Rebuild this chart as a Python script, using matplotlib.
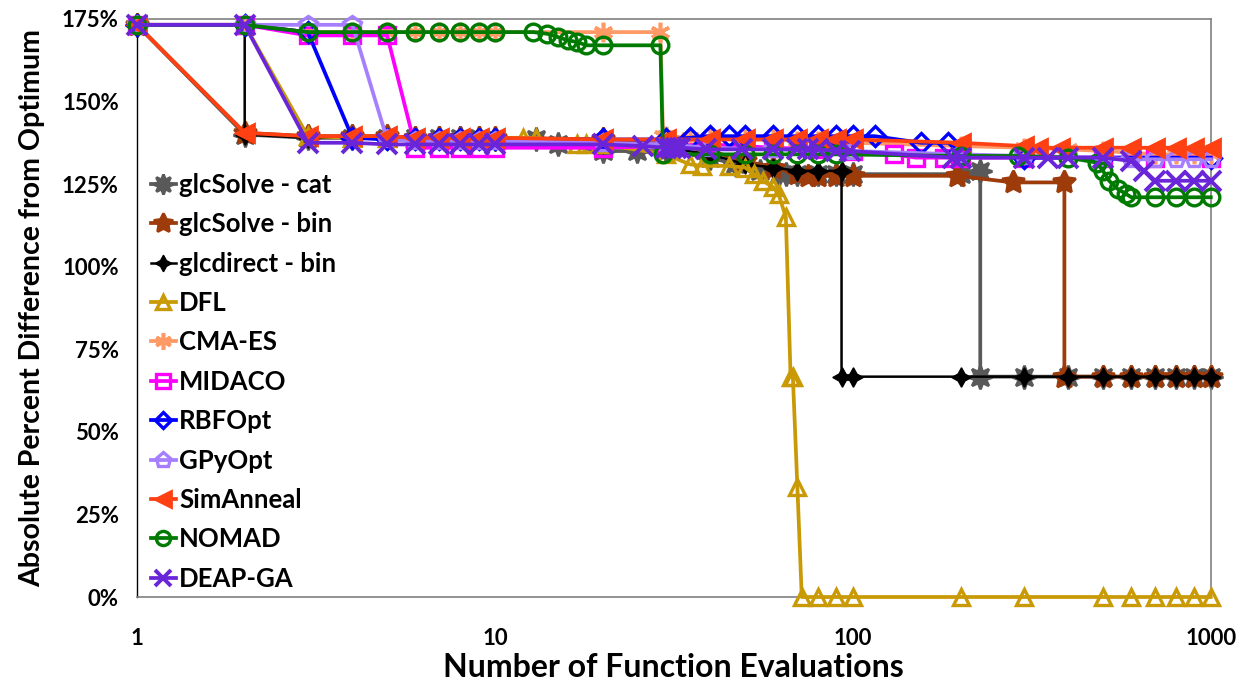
import numpy as np
import matplotlib.pyplot as plt
from matplotlib.ticker import FixedLocator, FuncFormatter, NullLocator

plt.rcParams['font.family'] = ['Lato', 'DejaVu Sans']
plt.rcParams['font.weight'] = 'bold'

# Daten (Prozentwerte)
cat_x = [1, 2, 3, 4, 5, 6, 7, 8, 9, 10, 13, 15, 20, 25, 30, 40, 47, 55, 62, 65, 70, 80, 90, 100,
         200, 227, 227, 300, 400, 500, 600, 700, 800, 900, 1000]
cat_y = [173.2, 140, 139, 139, 139, 139, 139, 139, 139, 138.5, 138.5, 137, 135, 135, 135, 133,
         131, 129, 128, 128, 128, 128, 128, 128, 128, 129, 66.7, 66.7, 66.7, 66.7, 66.7, 66.7,
         66.7, 66.7, 66.7]

bin_x = [1, 2, 3, 4, 5, 6, 7, 8, 9, 10, 20, 30, 40, 50, 60, 70, 75, 80, 90, 100, 196, 280,
         390, 390, 500, 600, 700, 800, 900, 1000]
bin_y = [173.2, 140.5, 139.5, 139.5, 139.5, 139, 139, 139, 139, 139, 138.5, 137, 135, 132, 130,
         128, 127.5, 127.5, 127.5, 127.5, 127.5, 125.5, 125.5, 66.7, 66.7, 66.7, 66.7, 66.7,
         66.7, 66.7]

direct_x = [1, 2, 2, 3, 4, 5, 6, 7, 8, 9, 10, 20, 30, 40, 50, 60, 70, 80, 93, 93, 100, 200,
            300, 400, 500, 600, 700, 800, 900, 1000]
direct_y = [173.2, 173.2, 140, 139, 139, 139, 139, 139, 139, 139, 138.5, 137, 136, 134, 131, 130,
            129, 129, 129, 66.7, 66.7, 66.7, 66.7, 66.7, 66.7, 66.7, 66.7, 66.7, 66.7, 66.7]

dfl_x = [1, 2, 3, 4, 5, 6, 7, 8, 9, 10, 12, 13, 17, 18, 20, 30, 35, 38, 45, 50, 53, 56, 60, 62,
         65, 67, 68, 70, 72, 80, 90, 100, 200, 300, 500, 600, 700, 800, 900, 1000]
dfl_y = [173.2, 173.2, 139.5, 139, 139, 139, 139, 139, 139, 139, 139, 139, 137, 137, 137, 134,
         131, 130.5, 130.5, 130, 128, 126, 124, 122, 115, 66.7, 66.7, 33.3, 0, 0, 0, 0, 0, 0, 0,
         0, 0, 0, 0, 0]

cma_x = [1, 2, 3, 4, 5, 6, 7, 8, 9, 10, 20, 29, 29.5, 30, 35, 40, 50, 60, 70, 80, 90, 100, 200,
         300, 400, 500, 600, 700, 800, 900, 1000]
cma_y = [173.2, 173.2, 171, 171, 171, 171, 171, 171, 171, 171, 171, 171, 139.5, 139.5, 139, 139,
         138.5, 138.5, 138, 138, 137.5, 137.5, 136.5, 136, 135.5, 135, 134.5, 134, 134, 134, 134]

midaco_x = [1, 2, 3, 4, 5, 6, 7, 8, 9, 10, 20, 30, 40, 60, 80, 100, 130, 150, 180, 200, 300,
            500, 700, 1000]
midaco_y = [173.2, 173.2, 170, 170, 170, 136, 136, 136, 136, 136, 136, 136.5, 137, 136, 135.5,
            135, 134, 133, 133, 133, 133, 133, 133, 133]

rbf_x = [1, 2, 3, 4, 5, 6, 7, 8, 9, 10, 20, 30, 35, 40, 45, 50, 60, 70, 80, 90, 100, 115, 155,
         185, 200, 300, 500, 1000]
rbf_y = [173.2, 173.2, 171, 139, 138.5, 138.5, 138.5, 138.5, 138.5, 138.5, 138.5, 138.5, 139,
         139.5, 139.5, 139.5, 139.5, 139.5, 139.5, 139.5, 139.5, 139.5, 137.5, 137.5, 134, 133,
         133, 133]

gpy_x = [1, 2, 3, 4, 5, 6, 7, 8, 9, 10, 20, 30, 40, 60, 100, 200, 300, 500, 600, 700, 800, 900,
         1000]
gpy_y = [173.2, 173.2, 173.2, 173.2, 138.5, 138, 138, 138, 138, 138, 137.5, 137, 136, 135.5,
         135, 134, 133.5, 133, 132.5, 132.5, 132.5, 132.5, 132.5]

sa_x = [1, 2, 3, 4, 5, 6, 7, 8, 9, 10, 20, 30, 40, 50, 60, 70, 80, 90, 100, 200, 300, 330, 380,
        500, 600, 700, 800, 900, 1000]
sa_y = [173.2, 140.5, 139.5, 139.5, 139.5, 139, 139, 139, 139, 139, 138.5, 138.5, 138.5, 138.5,
        138.5, 138.5, 138.5, 138.5, 138.5, 137.5, 136.5, 136, 136, 136, 136, 136, 136, 136, 136]

nomad_x = [1, 2, 3, 4, 5, 6, 7, 8, 9, 10, 12.8, 14, 15, 16, 17, 18, 20, 29, 29.5, 40, 50, 60, 70,
           80, 90, 200, 290, 400, 480, 500, 520, 550, 580, 600, 700, 800, 900, 1000]
nomad_y = [173.2, 173.2, 171, 171, 171, 171, 171, 171, 171, 171, 171, 170.5, 169.5, 168.5, 168,
           167, 167, 167, 134, 134, 134, 134, 134, 134, 134, 133.5, 133.5, 133, 131.5, 129,
           126, 123.5, 122, 121, 121, 121, 121, 121]

deap_x = [1, 2, 3, 4, 5, 6, 7, 8, 9, 10, 20, 26, 30, 31, 32, 33, 39, 49, 60, 70, 75, 80, 90, 98,
          190, 200, 300, 350, 400, 500, 600, 650, 700, 800, 900, 1000]
deap_y = [173.2, 173.2, 137.5, 137.5, 137, 137, 137, 137, 137, 137, 137, 136.5, 136, 136, 136,
          136, 135.5, 135.5, 135.5, 135.5, 135.5, 135.5, 135, 135, 133, 133, 133, 133, 133, 133,
          132, 129, 126, 126, 126, 126]

labels = ['glcSolve - cat', 'glcSolve - bin', 'glcdirect - bin', 'DFL', 'CMA-ES', 'MIDACO',
          'RBFOpt', 'GPyOpt', 'SimAnneal', 'NOMAD', 'DEAP-GA']
xs = [cat_x, bin_x, direct_x, dfl_x, cma_x, midaco_x, rbf_x, gpy_x, sa_x, nomad_x, deap_x]
ys = [cat_y, bin_y, direct_y, dfl_y, cma_y, midaco_y, rbf_y, gpy_y, sa_y, nomad_y, deap_y]

farben = ['#595959', '#9E3B0B', '#000000', '#C99A06', '#FF9966', '#FF00FF', '#0000FF',
          '#A67FFF', '#FF4012', '#007A00', '#6A25D8']
marker = [(8, 1, 0), (5, 1, 0), (4, 1, 0), '^', (6, 2, 0), 's', 'D', 'p', '<', 'o', 'x']
gefuellt = [True, True, True, False, True, False, False, False, True, False, True]
groesse = [17, 17, 14, 12, 14, 12, 10, 13, 13, 12, 14]
kante = [2.0, 2.0, 1.0, 2.4, 2.6, 2.4, 2.4, 2.4, 2.0, 2.4, 2.8]

fig = plt.figure(figsize=(12.45, 6.87), dpi=100)
ax = fig.add_axes([0.110, 0.131, 0.8625, 0.8415])

for i in range(len(labels)):
    fc = farben[i] if gefuellt[i] else 'none'
    lw = 1.8 if i == 2 else 2.7
    ax.plot(xs[i], ys[i], color=farben[i], lw=lw, marker=marker[i], markersize=groesse[i],
            markerfacecolor=fc, markeredgecolor=farben[i], markeredgewidth=kante[i],
            label=labels[i], clip_on=False, zorder=2 + i)

ax.set_xscale('log')
ax.set_xlim(1, 1000)
ax.set_ylim(0, 175)
ax.xaxis.set_major_locator(FixedLocator([1, 10, 100, 1000]))
ax.xaxis.set_minor_locator(NullLocator())
ax.xaxis.set_major_formatter(FuncFormatter(lambda v, p: '%d' % v))
ax.set_yticks(np.arange(0, 176, 25))
ax.yaxis.set_major_formatter(FuncFormatter(lambda v, p: '%d%%' % v))
ax.tick_params(length=0, labelsize=16)
ax.tick_params(axis='y', pad=13)
ax.tick_params(axis='x', pad=22)
for lab in ax.get_xticklabels() + ax.get_yticklabels():
    lab.set_fontweight('bold')

for s in ['top', 'right', 'bottom']:
    ax.spines[s].set_color('#808080')
    ax.spines[s].set_linewidth(1.2)
ax.spines['left'].set_color('black')
ax.spines['left'].set_linewidth(1.0)

ax.set_xlabel('Number of Function Evaluations', fontsize=23, fontweight='bold', labelpad=3)
ax.set_ylabel('Absolute Percent Difference from Optimum', fontsize=20.5, fontweight='bold',
              labelpad=12)

leg = ax.legend(loc='upper left', bbox_to_anchor=(-0.004, 0.765), frameon=False,
                fontsize=18.5, handlelength=1.0, handletextpad=0.1, labelspacing=0.6,
                markerscale=0.85, borderpad=0.2)
for t in leg.get_texts():
    t.set_fontweight('bold')

plt.savefig('out.png', dpi=100)
